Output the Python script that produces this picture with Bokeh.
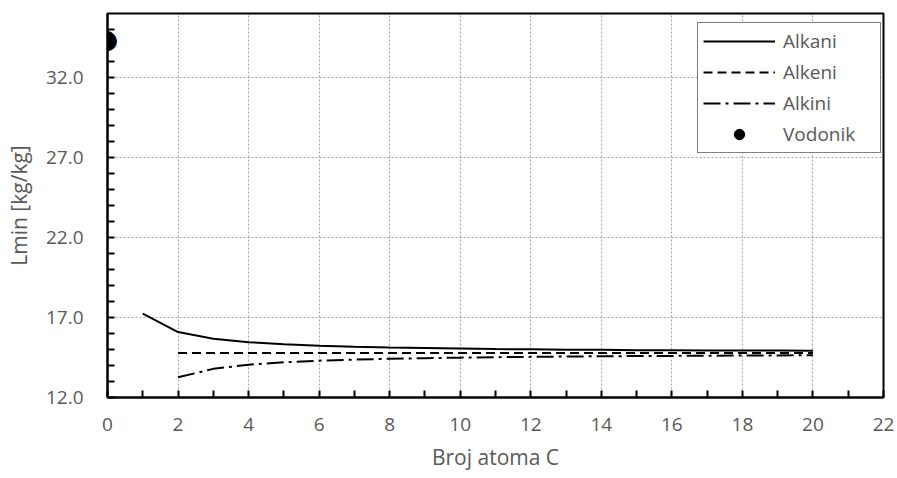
from bokeh.plotting import figure
from bokeh.models import FixedTicker, Range1d, Legend, LegendItem, NumeralTickFormatter, Label
from bokeh.embed import file_html
from bokeh.resources import INLINE

# ---- data ----
n_alkani = [1, 2, 3, 4, 5, 6, 7, 8, 9, 10, 11, 12, 13, 14, 15, 16, 17, 18, 19, 20]
lmin_alkani = [17.24, 16.09, 15.67, 15.46, 15.33, 15.24, 15.17, 15.12, 15.09, 15.06,
               15.03, 15.01, 14.99, 14.98, 14.96, 14.95, 14.94, 14.93, 14.93, 14.92]

n_alkeni = [2, 3, 4, 5, 6, 7, 8, 9, 10, 11, 12, 13, 14, 15, 16, 17, 18, 19, 20]
lmin_alkeni = [14.78, 14.78, 14.78, 14.78, 14.78, 14.78, 14.78, 14.78, 14.78, 14.78,
               14.78, 14.78, 14.78, 14.78, 14.78, 14.78, 14.78, 14.78, 14.78]

n_alkini = [2, 3, 4, 5, 6, 7, 8, 9, 10, 11, 12, 13, 14, 15, 16, 17, 18, 19, 20]
lmin_alkini = [13.26, 13.79, 14.05, 14.20, 14.30, 14.37, 14.42, 14.46, 14.49, 14.52,
               14.54, 14.56, 14.58, 14.59, 14.60, 14.61, 14.62, 14.63, 14.64]

n_vodonik = [0]
lmin_vodonik = [34.4]

x_ticks = [0, 2, 4, 6, 8, 10, 12, 14, 16, 18, 20, 22]
x_minor = [1, 3, 5, 7, 9, 11, 13, 15, 17, 19, 21]
y_ticks = [12, 17, 22, 27, 32]
y_minor = [13, 14, 15, 16, 18, 19, 20, 21, 23, 24, 25, 26, 28, 29, 30, 31, 33, 34, 35]

FONT = "Open Sans"
GRAY = "#595959"

p = figure(width=897, height=478, output_backend="svg", toolbar_location=None,
           x_range=Range1d(0, 22), y_range=Range1d(12, 36),
           min_border_left=107, min_border_right=14, min_border_top=13, min_border_bottom=81)

p.outline_line_color = "black"
p.outline_line_width = 2
p.background_fill_color = "white"
p.border_fill_color = "white"

r_alkani = p.line(n_alkani, lmin_alkani, line_color="black", line_width=2)
r_alkeni = p.line(n_alkeni, lmin_alkeni, line_color="black", line_width=2, line_dash="9 5")
r_alkini = p.line(n_alkini, lmin_alkini, line_color="black", line_width=2, line_dash="17 5 3 5")
r_vod = p.scatter(n_vodonik, lmin_vodonik, size=15, color="black")

# the marker sits on the axis line; draw it unclipped as an annotation too
vod_mark = Label(x=n_vodonik[0], y=lmin_vodonik[0], text="\u25CF", text_align="center",
                 text_baseline="middle", text_font="DejaVu Sans", text_font_size="25px",
                 text_color="black", level="overlay")
p.add_layout(vod_mark)

# axes
for ax in (p.xaxis[0], p.yaxis[0]):
    ax.axis_line_color = "black"
    ax.axis_line_width = 2
    ax.major_tick_in = 7
    ax.major_tick_out = 0
    ax.minor_tick_in = 7
    ax.minor_tick_out = 0
    ax.major_tick_line_width = 2
    ax.minor_tick_line_width = 2
    ax.major_tick_line_color = "black"
    ax.minor_tick_line_color = "black"
    ax.major_label_text_font = FONT
    ax.major_label_text_font_size = "19px"
    ax.major_label_text_color = GRAY
    ax.axis_label_text_font = FONT
    ax.axis_label_text_font_size = "21px"
    ax.axis_label_text_color = GRAY
    ax.axis_label_text_font_style = "normal"

p.xaxis[0].ticker = FixedTicker(ticks=x_ticks, minor_ticks=x_minor)
p.yaxis[0].ticker = FixedTicker(ticks=y_ticks, minor_ticks=y_minor)
p.yaxis[0].formatter = NumeralTickFormatter(format="0.0")
p.xaxis[0].axis_label = "Broj atoma C"
p.yaxis[0].axis_label = "Lmin [kg/kg]"
p.xaxis[0].major_label_standoff = 20
p.xaxis[0].axis_label_standoff = 9
p.yaxis[0].major_label_standoff = 24
p.yaxis[0].axis_label_standoff = 10

# grid
for g in (p.xgrid[0], p.ygrid[0]):
    g.grid_line_color = "#a6a6a6"
    g.grid_line_width = 1.2
    g.grid_line_dash = "2 2"

legend = Legend(items=[
    LegendItem(label="Alkani", renderers=[r_alkani]),
    LegendItem(label="Alkeni", renderers=[r_alkeni]),
    LegendItem(label="Alkini", renderers=[r_alkini]),
    LegendItem(label="Vodonik", renderers=[r_vod]),
], location=(590, 244))
legend.label_text_font = FONT
legend.label_text_font_size = "19px"
legend.label_text_color = GRAY
legend.glyph_width = 72
legend.glyph_height = 26
legend.label_height = 26
legend.label_width = 92
legend.label_standoff = 8
legend.spacing = 5
legend.padding = 5
legend.margin = 0
legend.border_line_color = "black"
legend.border_line_width = 1.5
legend.background_fill_color = "white"
legend.background_fill_alpha = 1
p.add_layout(legend, "center")

open("out.html", "w").write(file_html(p, INLINE))
